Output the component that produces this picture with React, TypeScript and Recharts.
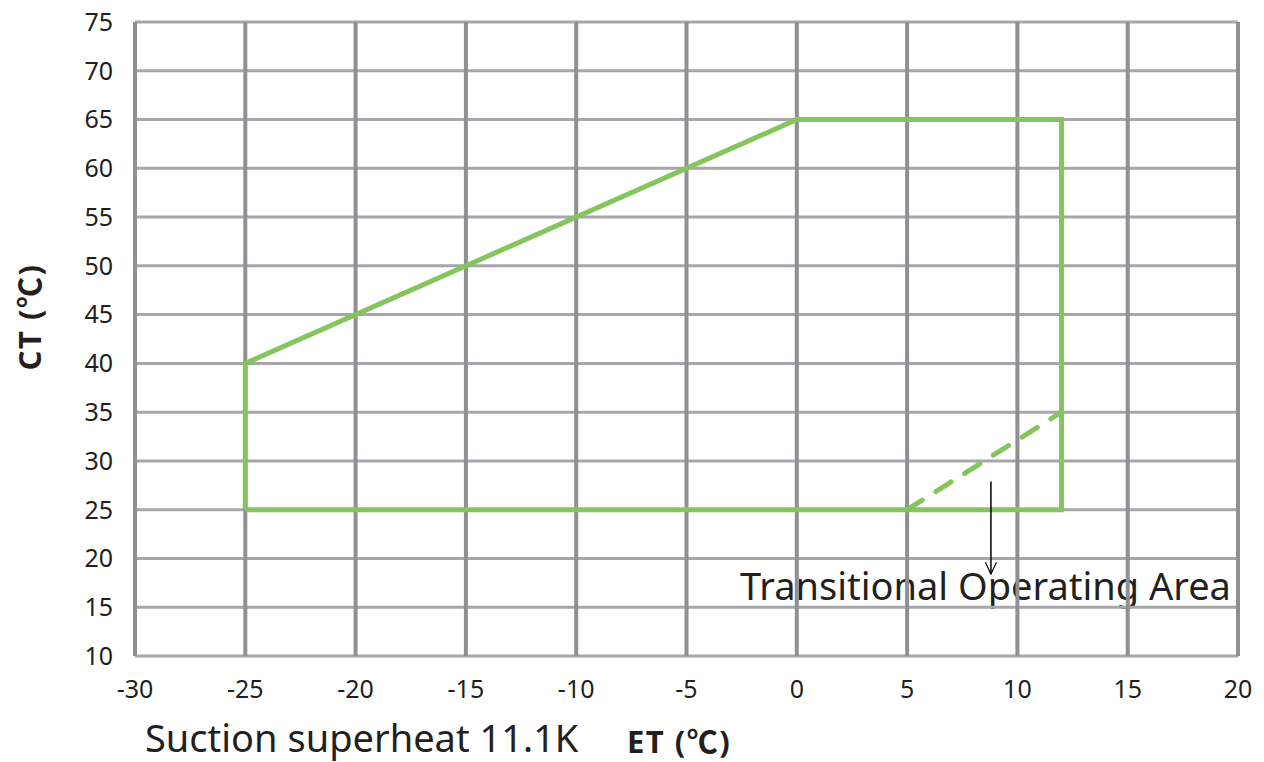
import React from 'react';
import {
  ComposedChart,
  Line,
  XAxis,
  YAxis,
  CartesianGrid,
} from 'recharts';

// Operating envelope outline (ET, CT)
const envelope = [
  { x: -25, y: 25 },
  { x: -25, y: 40 },
  { x: 0, y: 65 },
  { x: 12, y: 65 },
  { x: 12, y: 25 },
  { x: -25, y: 25 },
];

// Transitional area boundary (dashed)
const transitional = [
  { x: 5, y: 25 },
  { x: 12, y: 35 },
];

// Annotation arrow: shaft and head
const arrowShaft = [
  { x: 8.8, y: 27.9 },
  { x: 8.8, y: 18.4 },
];
const arrowHead = [
  { x: 8.55, y: 19.6 },
  { x: 8.8, y: 18.4 },
  { x: 9.05, y: 19.6 },
];

const xTicks = [-30, -25, -20, -15, -10, -5, 0, 5, 10, 15, 20];
const yTicks = [10, 15, 20, 25, 30, 35, 40, 45, 50, 55, 60, 65, 70, 75];

const FONT = '"Noto Sans", "Noto Sans CJK SC", sans-serif';
const CJK = '"Noto Sans CJK SC", sans-serif';
const GREEN = '#85c55e';
const TEXT = '#231f20';

const label = (left: number, top: number, size: number, bold = false): React.CSSProperties => ({
  position: 'absolute',
  left,
  top,
  fontSize: size,
  fontWeight: bold ? 700 : 400,
  color: TEXT,
  whiteSpace: 'nowrap',
  lineHeight: `${Math.round(size * 1.25)}px`,
});

const App: React.FC = () => {
  return (
    <div style={{ position: 'absolute', left: 0, top: 0, width: 1264, height: 762, fontFamily: FONT }}>
      {/* texts sit under the grid, like in the original */}
      <div style={label(740, 561, 38)}>Transitional Operating Area</div>
      <div style={label(145, 713, 38)}>Suction superheat 11.1K</div>
      <div style={{ ...label(627, 720, 31, true), letterSpacing: 1.5 }}>
        ET (<span style={{ fontFamily: CJK }}>℃</span>)
      </div>
      <div
        style={{
          ...label(28, 317, 31, true),
          letterSpacing: 1.5,
          transform: 'translate(-50%, -50%) rotate(-90deg)',
        }}
      >
        CT (<span style={{ fontFamily: CJK }}>℃</span>)
      </div>

      <div style={{ position: 'absolute', left: 0, top: 0 }}>
        <ComposedChart
          width={1264}
          height={762}
          margin={{ top: 22, right: 26, bottom: 46, left: 55 }}
        >
          {/* horizontal grid first, vertical on top */}
          <CartesianGrid vertical={false} stroke="#a7a7ab" strokeWidth={3} />
          <CartesianGrid horizontal={false} stroke="#8f8f94" strokeWidth={4} />
          <XAxis
            type="number"
            dataKey="x"
            domain={[-30, 20]}
            ticks={xTicks}
            height={60}
            axisLine={false}
            tickLine={false}
            tickSize={0}
            tickMargin={24}
            tick={{ fill: TEXT, fontSize: 25, fontFamily: FONT }}
            allowDataOverflow
          />
          <YAxis
            type="number"
            dataKey="y"
            domain={[10, 75]}
            ticks={yTicks}
            width={80}
            axisLine={false}
            tickLine={false}
            tickSize={0}
            tickMargin={22}
            tick={{ fill: TEXT, fontSize: 25, fontFamily: FONT }}
            allowDataOverflow
          />
          <Line
            data={envelope}
            dataKey="y"
            stroke={GREEN}
            strokeWidth={5}
            dot={false}
            activeDot={false}
            strokeLinejoin="miter"
            isAnimationActive={false}
          />
          <Line
            data={transitional}
            dataKey="y"
            stroke={GREEN}
            strokeWidth={5}
            strokeDasharray="18 16"
            strokeLinecap="round"
            dot={false}
            activeDot={false}
            isAnimationActive={false}
          />
          <Line
            data={arrowShaft}
            dataKey="y"
            stroke="#000"
            strokeWidth={1.5}
            dot={false}
            activeDot={false}
            isAnimationActive={false}
          />
          <Line
            data={arrowHead}
            dataKey="y"
            stroke="#000"
            strokeWidth={1.2}
            dot={false}
            activeDot={false}
            isAnimationActive={false}
          />
        </ComposedChart>
      </div>
    </div>
  );
};

export default App;
